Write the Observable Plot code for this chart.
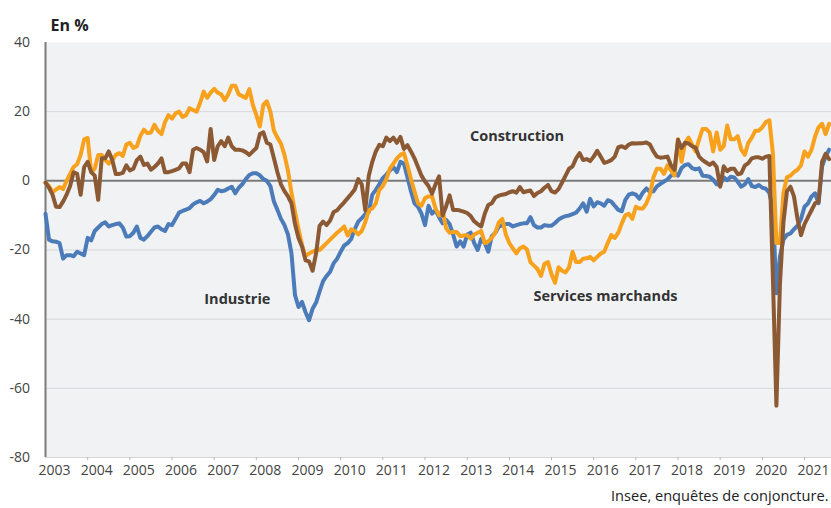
<!DOCTYPE html>
<html><head><meta charset="utf-8">
<script src="https://cdn.jsdelivr.net/npm/d3@7"></script>
<script src="https://cdn.jsdelivr.net/npm/@observablehq/plot@0.6"></script>
<style>body{margin:0;background:#fff}</style>
</head><body><div id="chart"></div>
<script>
// Monthly series, January 2003 -> August 2021 (en %)
const industrie = [
-9.5,-17,-17.5,-17.6,-18,-22.5,-21.5,-21.5,-21.8,-20.5,-21,-21.5,
-16.5,-17.2,-14.5,-13.5,-12.5,-12,-13.2,-12.8,-12.5,-12.3,-13.5,-16.1,
-16,-15,-13.2,-16.5,-17,-16,-14.7,-13.5,-13.2,-14,-14.5,-12.5,
-12.8,-11,-9.2,-8.7,-8.3,-7.9,-6.8,-6.2,-5.8,-6.5,-6,-5.3,
-4.1,-2.6,-3,-2.8,-2.2,-1.7,-3.6,-2,-1,0.5,1.7,2.2,
2.2,1.6,0.5,0,-1.5,-6,-8.4,-11,-12.8,-15.5,-21,-33,
-36.5,-35,-38,-40.3,-37,-35.2,-32,-29,-27.5,-26.3,-23.8,-22.5,
-20.5,-18.7,-18,-16.8,-14,-11.8,-10.8,-9.6,-9,-4,-2.6,-1,
0.8,1.8,3,4,2.5,5.5,5,1,-3,-6.5,-7.5,-9.5,
-12.8,-7.2,-9.5,-8.5,-10.5,-12.3,-11.3,-12.5,-15.5,-19,-17.5,-19,
-15.5,-15,-18,-20,-16.8,-18,-20.5,-16,-15,-13.3,-12.8,-12.5,
-12.5,-13.2,-12.8,-12.5,-12.3,-12.3,-10.5,-12.8,-13.5,-13.5,-12.8,-13,
-13,-12.2,-11.2,-10.6,-10.2,-10,-9.6,-9.2,-8,-6.5,-8.9,-5.2,
-7.4,-6.2,-6.5,-7.2,-5.6,-6,-7.2,-8.4,-8.8,-5.5,-4,-3.6,
-4,-5.2,-3.4,-2.2,-3.2,-3,-1.6,-0.9,-0.2,0.4,1.5,2.4,
1.5,3.7,4.6,4.8,3.7,3.3,3.6,1.5,1.4,1.2,0.3,-1,
-1.2,1,0.2,1.2,1,-0.3,-1.7,-1,0.5,-1.5,-1.8,-1.2,
-2,-2.3,-3.5,-8,-32.5,-22,-17,-15.6,-15.2,-14,-13,-11,
-7.5,-6.5,-4.5,-3.6,-6.5,4.2,7,9
];
const services = [
-0.5,-1.5,-3.3,-2.5,-1.8,-2.4,0,2,4,4.8,7.5,12,
12.4,2.5,3.5,7.5,7.5,6,5,6,7.5,8,7.2,10.5,
11,9.5,10,13,14.8,13.8,14,16.2,14.5,13.5,17,19,
18,19.5,20,18.5,19,21,20.5,20,22.5,25.8,24,25.5,
26.6,25.5,25,23.3,25,27.5,27.5,25,24.5,24,26.5,22,
19,15.7,22,23,20,14.5,12.5,10.8,7.5,3,-3.5,-9,
-14,-18.5,-21.8,-21,-20.5,-20,-20,-19,-18,-17,-16,-15,
-14.2,-13.2,-15.8,-14,-14.5,-15.5,-14.5,-12,-8.5,-8,-6.5,-2.6,
-1.5,0.5,3.5,5,6.5,7.5,8,4.5,0.5,-3,-6.5,-7.2,
-5,-4.5,-4.5,-8,-10,-8.5,-13.7,-15,-14.8,-14.8,-16,-15.8,
-15.7,-16.7,-15.5,-15,-14.5,-18,-17.5,-16.5,-15,-12,-11,-15.5,
-18,-19.5,-21,-19.5,-19,-19.8,-23.5,-24.5,-25.5,-27.5,-24,-23.5,
-27,-29.5,-25,-26,-26.5,-25,-20.5,-23.5,-23.5,-22.5,-22.4,-22,
-23,-22,-21,-20.5,-18,-15.7,-16.5,-15,-12.3,-10,-9.5,-11,
-7.5,-8,-8,-6.5,-4,1,3.5,3.5,2,4.5,3,1.5,
12,5.5,11,12.5,10.5,8.5,12,15,15,14,8.5,14,
9,10,16,12,12,12.9,9,7.5,11,12.5,14.5,14.5,
15.5,17,17.5,8,-18,-18,-3.5,1,1.5,2.5,3.2,4.5,
8.5,7,9,12.8,15.5,16.5,13.5,16.5
];
const construction = [
-0.5,-2,-4,-7.5,-7.6,-6,-4,-1.5,2.5,2,-4,4,
5.5,2.5,1.5,-5.5,6.5,6.5,8.5,6,2,2,2.3,4.5,
3,3.5,6,7,4.6,5,3.2,4,5,6.5,2.5,2.5,
2.8,3.2,3.6,5,5,2.5,9,9.5,9,8.3,5.6,15,
6,10,11.5,10,12.5,10,9,9,8.8,8.3,7.5,8.5,
9.5,13.5,14,11,10.5,6.5,2.5,-1,-3,-4.5,-6.5,-12.5,
-16.5,-19,-23,-23.3,-26,-21,-13,-11.8,-12.8,-11.5,-9,-8.5,
-7.3,-6.2,-5,-3.8,-2.5,0.5,-1,-8.5,1.5,5.5,8.5,10.4,
10,12.5,11.5,12.5,11,12.7,9.2,10.3,8.5,6.5,4,1.5,
-0.2,-1.5,-3.7,-1,1.3,-10,-7.4,-4.2,-8.4,-8.4,-8.6,-8.9,
-9.3,-10.2,-11.7,-12.5,-13.2,-9.5,-7,-6.5,-4.8,-4.3,-4,-3.8,
-3.3,-3,-3.4,-1.8,-3.3,-3,-2.8,-4.4,-3.5,-3,-2,-1.2,
-3,-3.4,-2.4,-0.5,1.5,3.5,4.2,6.5,8,6,6.3,5.7,
7,8.7,7,5.2,5.5,6,7,9.7,10,9.5,10.5,10.9,
10.8,10.9,10.9,11.1,10.5,8.5,7,6.7,6.8,7,4.5,3.2,
11.9,9.5,11,10.8,10,9.6,7,6,5.3,4.6,5.3,4,
-1.7,4.2,2.8,3.5,3.5,1.9,2.2,4.4,5.1,6.5,6.8,6.8,
6.4,7,7.2,-28,-65,-30,-12,-3,-1.7,-4.5,-11,-15.7,
-12.5,-10.5,-8.5,-6.5,-6,5.5,7.8,6.3
];
const startYear = 2003;
const years = d3.range(2003, 2022);
const yTicks = [40, 20, 0, -20, -40, -60, -80];
const gridValues = [20, -20, -40, -60, -80];
const seriesNames = ["Industrie", "Services marchands", "Construction"];
const seriesColors = ["#4b7bb8", "#f8a11c", "#8b5a34"];
const titleText = "En %";
const sourceText = "Insee, enquêtes de conjoncture.";

const toRows = (arr) => arr.map((v, i) => ({date: startYear + i / 12, value: v}));
const seriesData = [industrie, services, construction].map(toRows);

const font = "'Open Sans', sans-serif";

const chart = Plot.plot({
  width: 831, height: 508,
  marginLeft: 45, marginRight: 0, marginTop: 42, marginBottom: 51,
  x: {domain: [2003, 2021.64], axis: null},
  y: {domain: [-80, 40], axis: null},
  style: {fontFamily: font, fontSize: "14px", background: "#fff", color: "#444"},
  marks: [
    Plot.frame({fill: "#f1f2f4", stroke: "none"}),
    Plot.ruleY(gridValues, {stroke: "#d6d7d9", strokeWidth: 1}),
    Plot.ruleY([0], {stroke: "#7b7b7b", strokeWidth: 2}),
    Plot.ruleX([2003], {stroke: "#7b7b7b", strokeWidth: 2}),
    Plot.axisX({ticks: years.slice(1), tickSize: 3, tickFormat: () => "", stroke: "#b5b5b5", label: null}),
    Plot.text(years, {x: d => d, frameAnchor: "bottom", dx: 9, dy: 17, text: d => String(d), fontSize: 14, fill: "#444"}),
    Plot.text(yTicks, {y: d => d, frameAnchor: "left", dx: -15.5, textAnchor: "end", text: d => String(d), fontSize: 14, fill: "#444"}),
    ...seriesData.map((rows, i) => Plot.line(rows, {x: "date", y: "value", stroke: seriesColors[i], strokeWidth: 4, strokeLinejoin: "round", strokeLinecap: "round"})),
    Plot.text([seriesNames[2]], {x: 2014.18, y: 12.75, text: d => d, fontWeight: "bold", fontSize: 14.5, fill: "#333"}),
    Plot.text([seriesNames[0]], {x: 2007.55, y: -34.3, text: d => d, fontWeight: "bold", fontSize: 14.5, fill: "#333"}),
    Plot.text([seriesNames[1]], {x: 2016.28, y: -33.5, text: d => d, fontWeight: "bold", fontSize: 14.5, fill: "#333"}),
    Plot.text([titleText], {frameAnchor: "top-left", dx: 5, dy: -23, textAnchor: "start", text: d => d, fontWeight: "bold", fontSize: 16, fill: "#222"}),
    Plot.text([sourceText], {frameAnchor: "bottom-right", dx: -3, dy: 43, textAnchor: "end", text: d => d, fontSize: 14.6, fill: "#222"})
  ]
});
document.getElementById("chart").append(chart);
</script>
</body></html>
